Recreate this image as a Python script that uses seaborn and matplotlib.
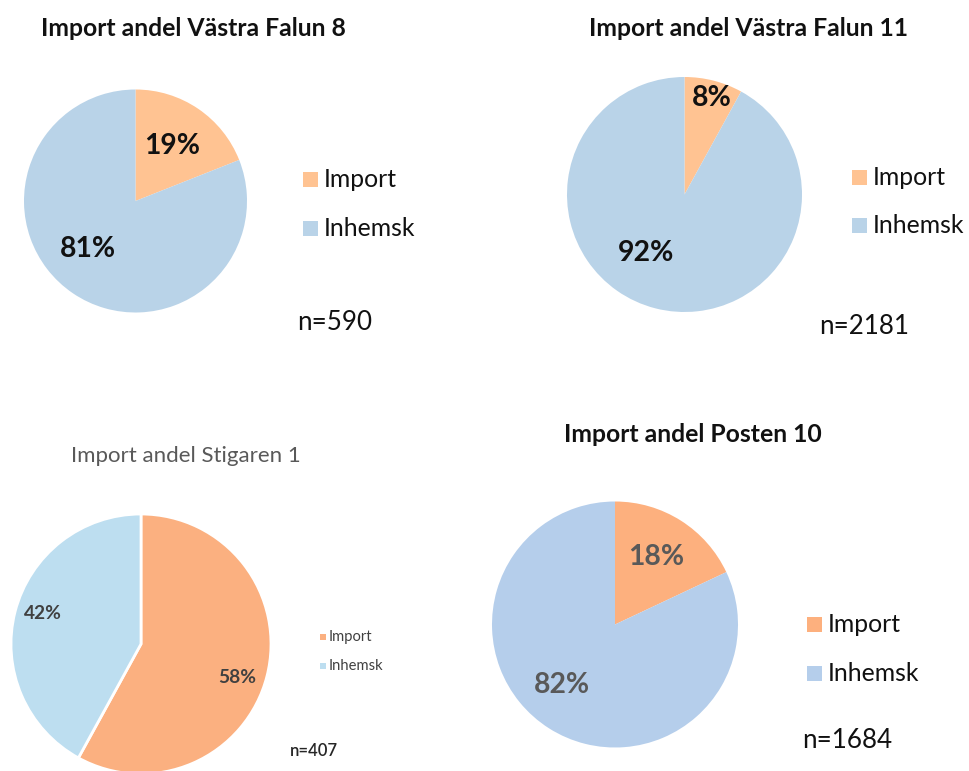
import matplotlib
matplotlib.use("Agg")
import matplotlib.pyplot as plt
import seaborn as sns

# Import share per site (percent) and sample sizes
sites = ["Västra Falun 8", "Västra Falun 11", "Stigaren 1", "Posten 10"]
categories = ["Import", "Inhemsk"]
import_pct = [19, 8, 58, 18]
inhemsk_pct = [81, 92, 42, 82]
n_values = [590, 2181, 407, 1684]

sns.set_theme(style="white")
plt.rcParams["font.family"] = ["Lato", "DejaVu Sans"]

W, H = 970, 771
fig = plt.figure(figsize=(W / 100, H / 100), dpi=100)
fig.patch.set_facecolor("white")


def fx(x):
    return x / W


def fy(y):
    return 1 - y / H


# Panel layout in pixel coordinates
panels = [
    dict(center=(135.5, 201), r=111.5, title_xy=(193, 28), title_size=17.8, title_weight="bold",
         title_color="#111111", colors=["#FFC392", "#B9D3E8"], edge=0.0,
         label_off=[(0.33, 0.49), (-0.426, -0.43)], label_size=20.3, label_color="#111111",
         leg_xy=(303, 179.5), leg_pitch=49, leg_size=17.8, leg_patch=15, leg_gap=6,
         leg_color="#111111", n_xy=(297, 322), n_size=18.7, n_color="#111111", n_weight="normal"),
    dict(center=(684.5, 194.5), r=117.5, title_xy=(748.5, 28), title_size=17.8, title_weight="bold",
         title_color="#111111", colors=["#FFC392", "#B9D3E8"], edge=0.0,
         label_off=[(0.234, 0.821), (-0.328, -0.498)], label_size=20.5, label_color="#111111",
         leg_xy=(852, 177.5), leg_pitch=48, leg_size=17.8, leg_patch=15, leg_gap=6,
         leg_color="#111111", n_xy=(819, 326), n_size=18.7, n_color="#111111", n_weight="normal"),
    dict(center=(141, 644), r=130, title_xy=(186, 456), title_size=16, title_weight="normal",
         title_color="#595959", colors=["#FBB080", "#BDDEF0"], edge=2.0,
         label_off=[(0.738, -0.26), (-0.754, 0.238)], label_size=13.8, label_color="#404040",
         leg_xy=(320, 637), leg_pitch=29, leg_size=10.6, leg_patch=6, leg_gap=3,
         leg_color="#404040", n_xy=(290, 751), n_size=12, n_color="#262626", n_weight="semibold"),
    dict(center=(615, 624.5), r=123, title_xy=(693, 435), title_size=17.8, title_weight="bold",
         title_color="#111111", colors=["#FDB07E", "#B5CEEB"], edge=0.0,
         label_off=[(0.333, 0.549), (-0.431, -0.492)], label_size=20.3, label_color="#595959",
         leg_xy=(807, 624.5), leg_pitch=49, leg_size=17.8, leg_patch=15, leg_gap=6,
         leg_color="#111111", n_xy=(802, 741), n_size=18.7, n_color="#111111", n_weight="normal"),
]

for site, imp, inh, n, p in zip(sites, import_pct, inhemsk_pct, n_values, panels):
    cx, cy = p["center"]
    r = p["r"]
    ax = fig.add_axes([fx(cx - r), fy(cy + r), 2 * r / W, 2 * r / H])
    values = [imp, inh]
    wedges, _ = ax.pie(values, colors=p["colors"], startangle=90, counterclock=False,
                       radius=1.0,
                       wedgeprops=dict(edgecolor="white", linewidth=p["edge"]))
    ax.set_xlim(-1, 1)
    ax.set_ylim(-1, 1)
    ax.set_aspect("equal")
    ax.axis("off")

    for v, (ox, oy) in zip(values, p["label_off"]):
        ax.text(ox, oy, f"{v}%", ha="center", va="center", fontsize=p["label_size"],
                fontweight="bold", color=p["label_color"])

    fig.text(fx(p["title_xy"][0]), fy(p["title_xy"][1]), f"Import andel {site}",
             ha="center", va="center", fontsize=p["title_size"],
             fontweight=p["title_weight"], color=p["title_color"])

    # Legend: square swatch + label
    lx, ly = p["leg_xy"]
    s = p["leg_patch"]
    for i, (cat, col) in enumerate(zip(categories, p["colors"])):
        yy = ly + i * p["leg_pitch"]
        fig.patches.append(plt.Rectangle((fx(lx), fy(yy + s / 2)), s / W, s / H,
                                         transform=fig.transFigure, facecolor=col,
                                         edgecolor="none"))
        fig.text(fx(lx + s + p["leg_gap"]), fy(yy), cat, ha="left", va="center",
                 fontsize=p["leg_size"], color=p["leg_color"])

    fig.text(fx(p["n_xy"][0]), fy(p["n_xy"][1]), f"n={n}", ha="left", va="center",
             fontsize=p["n_size"], color=p["n_color"], fontweight=p["n_weight"])

fig.savefig("out.png", dpi=100, facecolor="white")
